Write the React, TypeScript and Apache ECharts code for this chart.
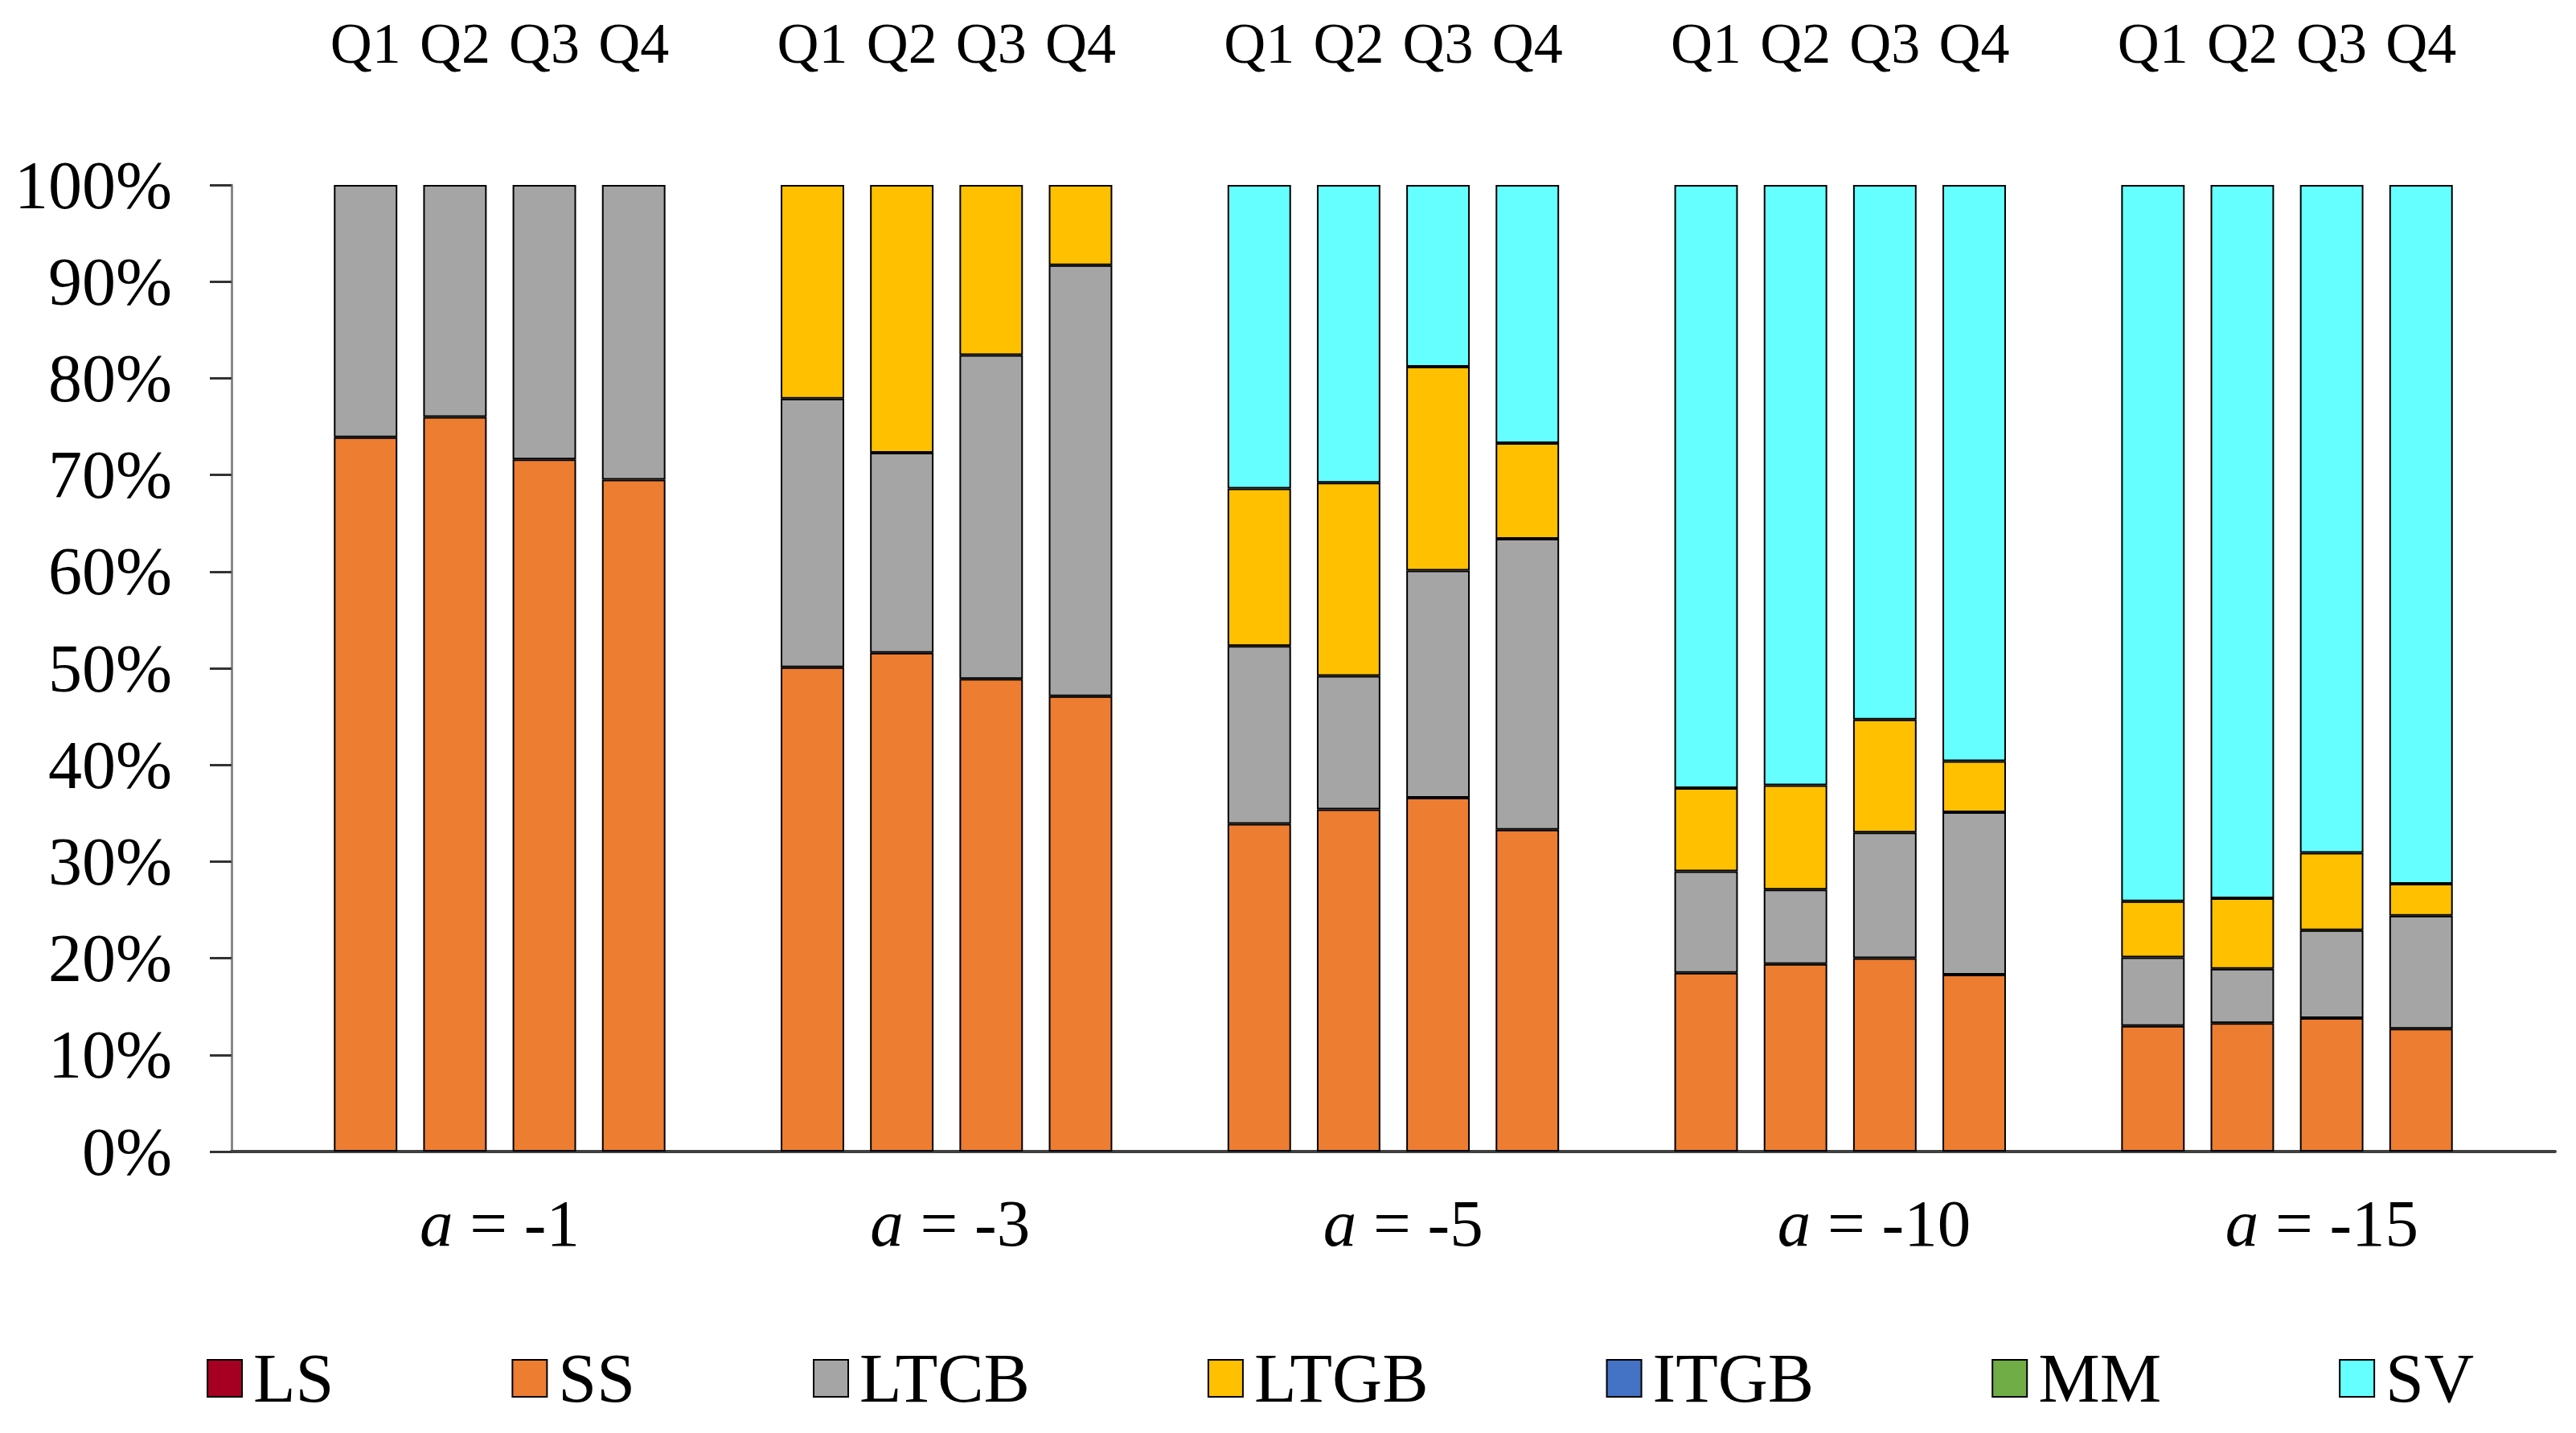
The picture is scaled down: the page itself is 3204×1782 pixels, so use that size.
import React, { useEffect, useRef } from "react";
import * as echarts from "echarts";

// ---- data (percent shares) ----
const groups = ["-1", "-3", "-5", "-10", "-15"];
const quarters = ["Q1", "Q2", "Q3", "Q4"];
const seriesNames = ["LS", "SS", "LTCB", "LTGB", "ITGB", "MM", "SV"];
const seriesColors = ["#A50021", "#ED7D31", "#A5A5A5", "#FFC000", "#4472C4", "#70AD47", "#66FFFF"];

// each array: 5 groups x 4 quarters (a=-1, a=-3, a=-5, a=-10, a=-15)
const LS = [0, 0, 0, 0, 0, 0, 0, 0, 0, 0, 0, 0, 0, 0, 0, 0, 0, 0, 0, 0];
const SS = [73.9, 76.0, 71.6, 69.5, 50.1, 51.6, 48.9, 47.1, 33.9, 35.4, 36.6, 33.3, 18.5, 19.4, 20.0, 18.3, 13.0, 13.3, 13.8, 12.7];
const LTCB = [26.1, 24.0, 28.4, 30.5, 27.8, 20.7, 33.5, 44.6, 18.4, 13.8, 23.5, 30.1, 10.5, 7.7, 13.0, 16.8, 7.1, 5.6, 9.1, 11.7];
const LTGB = [0, 0, 0, 0, 22.1, 27.7, 17.6, 8.3, 16.3, 20.0, 21.1, 9.9, 8.6, 10.8, 11.7, 5.3, 5.8, 7.3, 8.0, 3.3];
const ITGB = [0, 0, 0, 0, 0, 0, 0, 0, 0, 0, 0, 0, 0, 0, 0, 0, 0, 0, 0, 0];
const MM = [0, 0, 0, 0, 0, 0, 0, 0, 0, 0, 0, 0, 0, 0, 0, 0, 0, 0, 0, 0];
const SV = [0, 0, 0, 0, 0, 0, 0, 0, 31.4, 30.8, 18.8, 26.7, 62.4, 62.1, 55.3, 59.6, 74.1, 73.8, 69.1, 72.3];
const seriesValues = [LS, SS, LTCB, LTGB, ITGB, MM, SV];
const yTicks = [0, 10, 20, 30, 40, 50, 60, 70, 80, 90, 100];

const FONT = "'Times New Roman', 'Liberation Serif', serif";

// slot layout: one empty slot before each group and one at the end
const slotsPerGroup = quarters.length + 1;
const totalSlots = groups.length * slotsPerGroup + 1;
const slotNames: string[] = [];
const slotQuarter: string[] = [];
for (let s = 0; s < totalSlots; s++) {
  slotNames.push("s" + s);
  const k = s % slotsPerGroup;
  const g = Math.floor(s / slotsPerGroup);
  slotQuarter.push(k === 0 || g >= groups.length ? "" : quarters[k - 1]);
}
function toSlots(values: number[]) {
  const out: (number | string)[] = [];
  for (let s = 0; s < totalSlots; s++) {
    const k = s % slotsPerGroup;
    const g = Math.floor(s / slotsPerGroup);
    if (k === 0 || g >= groups.length) out.push("-");
    else {
      const v = values[g * quarters.length + k - 1];
      out.push(v === 0 ? "-" : v);
    }
  }
  return out;
}
// group label anchors (slot units), with the small rightward offsets seen in the reference
const labelShift = [0, 0.04, 0.11, 0.38, 0.39];
const groupCenters = groups.map((_, g) => g * slotsPerGroup + 1 + quarters.length / 2 + labelShift[g]);

export default function App() {
  const ref = useRef<HTMLDivElement>(null);
  useEffect(() => {
    if (!ref.current) return;
    const chart = echarts.init(ref.current, null, { renderer: "svg" });
    chart.setOption({
      animation: false,
      backgroundColor: "#ffffff",
      grid: { left: 288, right: 26, top: 230, bottom: 350, containLabel: false },
      legend: {
        data: seriesNames,
        left: 257,
        top: 1671,
        padding: 0,
        icon: "rect",
        itemWidth: 43,
        itemHeight: 46,
        itemGap: 221,
        textStyle: { fontFamily: FONT, fontSize: 86, color: "#000", padding: [0, 0, 0, 9] },
      },
      xAxis: [
        {
          type: "category",
          data: slotNames,
          position: "bottom",
          axisLine: { show: true, lineStyle: { color: "#404040", width: 4 } },
          axisTick: { show: false },
          axisLabel: { show: false },
          splitLine: { show: false },
        },
        {
          type: "category",
          data: slotQuarter,
          position: "top",
          axisLine: { show: false },
          axisTick: { show: false },
          axisLabel: {
            show: true,
            interval: 0,
            margin: 140,
            fontFamily: FONT,
            fontSize: 72,
            color: "#000",
          },
          splitLine: { show: false },
        },
        {
          type: "value",
          min: 0,
          max: totalSlots,
          position: "bottom",
          axisLine: { show: false },
          axisTick: { show: false },
          splitLine: { show: false },
          axisLabel: {
            show: true,
            customValues: groupCenters,
            margin: 47,
            fontFamily: FONT,
            fontSize: 83,
            color: "#000",
            formatter: (v: number) => {
              let idx = -1;
              groupCenters.forEach((c, i) => {
                if (Math.abs(c - v) < 1e-6) idx = i;
              });
              return idx >= 0 ? "{i|a} = " + groups[idx] : "";
            },
            rich: {
              i: { fontFamily: FONT, fontSize: 83, fontStyle: "italic", color: "#000" },
            },
          },
        },
      ],
      yAxis: {
        type: "value",
        min: 0,
        max: 100,
        interval: 10,
        axisLine: { show: true, lineStyle: { color: "#888888", width: 3 } },
        axisTick: { show: true, length: 27, lineStyle: { color: "#333333", width: 3 } },
        splitLine: { show: false },
        axisLabel: {
          margin: 74,
          fontFamily: FONT,
          fontSize: 84,
          color: "#000",
          formatter: (v: number) => (yTicks.indexOf(v) >= 0 ? v + "%" : ""),
        },
      },
      series: seriesNames.map((name, i) => ({
        name,
        type: "bar",
        stack: "total",
        xAxisIndex: 0,
        barCategoryGap: "29%",
        data: toSlots(seriesValues[i]),
        itemStyle: { color: seriesColors[i], borderColor: "#000", borderWidth: 2 },
        emphasis: { disabled: true },
      })),
    });
    return () => chart.dispose();
  }, []);
  return (
    <div
      ref={ref}
      style={{ position: "fixed", left: 0, top: 0, width: 3204, height: 1782, background: "#fff" }}
    />
  );
}
